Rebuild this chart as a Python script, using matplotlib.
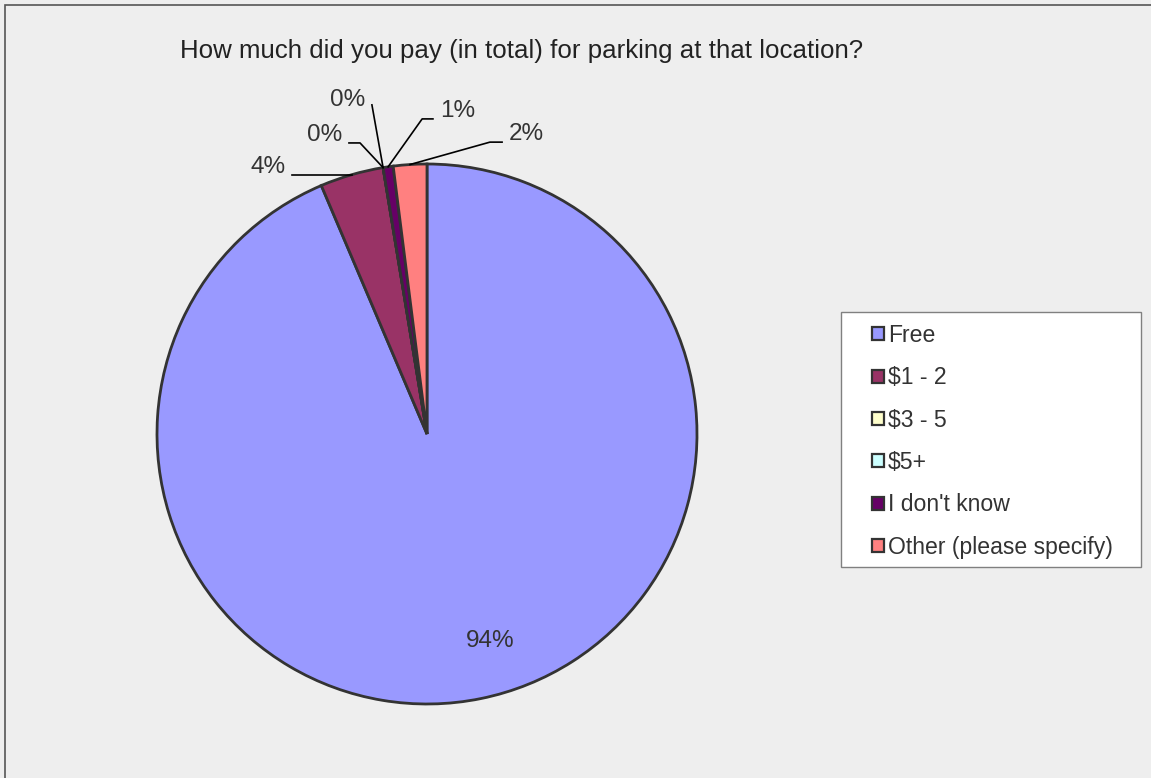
import numpy as np
import matplotlib
matplotlib.use('Agg')
import matplotlib.pyplot as plt
from matplotlib.patches import Rectangle

plt.rcParams['font.family'] = ['Liberation Sans', 'DejaVu Sans']

categories = ['Free', '$1 - 2', '$3 - 5', '$5+', "I don't know", 'Other (please specify)']
shares     = [93.6, 3.8, 0.0, 0.0, 0.6, 2.0]
pct_labels = ['94%', '4%', '0%', '0%', '1%', '2%']
colors     = ['#9999FF', '#993366', '#FFFFCC', '#CCFFFF', '#660066', '#FF8080']

TITLE = 'How much did you pay (in total) for parking at that location?'

W, H = 1151, 778
fig = plt.figure(figsize=(W / 100, H / 100), dpi=100, facecolor='#EEEEEE')

# outer frame (left/top edges visible in the reference)
fig.patches.append(Rectangle((5 / W, -0.05), 1.1, 1 - 5 / H + 0.05, transform=fig.transFigure,
                             fill=False, edgecolor='#555555', lw=1.2))

cx, cy, r = 427, 434, 270
ax = fig.add_axes([(cx - r) / W, 1 - (cy + r) / H, 2 * r / W, 2 * r / H])
ax.set_facecolor('none')

wedges, _ = ax.pie(shares, colors=colors, startangle=90, counterclock=False,
                   radius=1, wedgeprops=dict(edgecolor='#333333', linewidth=2))
ax.set_xlim(-1, 1)
ax.set_ylim(-1, 1)
ax.set_aspect('auto')
ax.axis('off')

lbl_font = dict(fontsize=17.5, color='#333333')

# big slice label inside the pie
mid = np.deg2rad(-73)
ax.text(0.8 * np.cos(mid), 0.8 * np.sin(mid), pct_labels[0], ha='center', va='center', **lbl_font)

# leader line layout for small slices: (elbow, end, text anchor side)
layout = {
    1: ((None, None), (-0.50, 0.970), 'right'),
    2: ((-0.248, 1.078), (-0.289, 1.078), 'right'),
    3: ((-0.204, 1.219), (-0.204, 1.219), 'right'),
    4: ((-0.018, 1.167), (0.022, 1.167), 'left'),
    5: ((0.233, 1.081), (0.278, 1.081), 'left'),
}
for i, ((ex, ey), (tx, ty), side) in layout.items():
    w = wedges[i]
    a = np.deg2rad((w.theta1 + w.theta2) / 2)
    px, py = np.cos(a), np.sin(a)
    if ex is None:
        ex, ey = px, py
        ty = py
    ax.plot([px, ex, tx], [py, ey, ty], color='black', lw=1.2, clip_on=False)
    dy = 0.018 if i == 3 else 0.03
    if side == 'right':
        ax.text(tx - 0.025, ty + dy, pct_labels[i], ha='right', va='center', **lbl_font)
    else:
        ax.text(tx + 0.025, ty + dy, pct_labels[i], ha='left', va='center', **lbl_font)

fig.text(522 / W, 1 - 51 / H, TITLE, ha='center', va='center', fontsize=18.6,
         color='#222222')

# legend frame drawn separately so the box matches the reference
fig.patches.append(Rectangle((841 / W, 1 - 567 / H), 300 / W, 255 / H, transform=fig.transFigure,
                             facecolor='white', edgecolor='#808080', lw=1, zorder=2))
handles = [Rectangle((0, 0), 1, 1, facecolor=c, edgecolor='#333333', lw=1.6) for c in colors]
leg = fig.legend(handles, categories, loc='upper left',
                 bbox_to_anchor=(872 / W, 1 - 324 / H),
                 fontsize=16.6, frameon=False,
                 handlelength=0.5, handleheight=0.5, handletextpad=0.18,
                 labelspacing=0.84, borderpad=0, borderaxespad=0)
leg.set_zorder(3)
for t in leg.get_texts():
    t.set_color('#333333')

fig.savefig('out.png', dpi=100, facecolor=fig.get_facecolor())
